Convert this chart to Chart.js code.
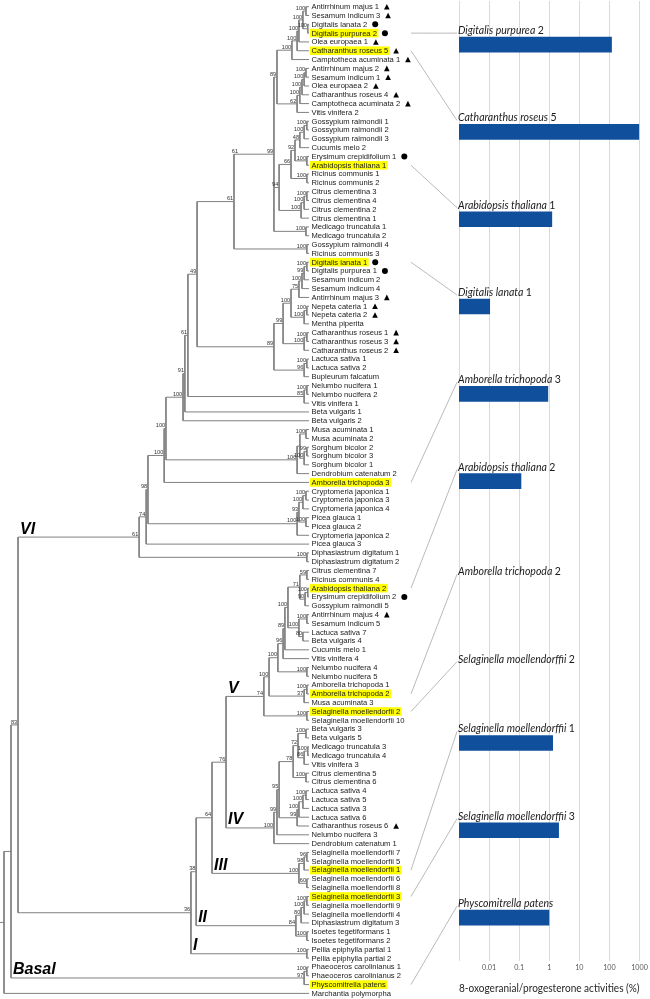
<!DOCTYPE html>
<html>
<head>
<meta charset="utf-8">
<script src="https://cdn.jsdelivr.net/npm/chart.js@4.4.1/dist/chart.umd.min.js"></script>
<style>
html, body { margin: 0; padding: 0; background: #fff; }
#wrap { position: relative; width: 650px; height: 999px; }
#wrap canvas { position: absolute; left: 0; top: 0; }
</style>
</head>
<body>
<div id="wrap">
<canvas id="tree" width="650" height="999"></canvas>
<canvas id="bars" width="650" height="999"></canvas>
</div>
<script>
// tree pieces: name)bootstrap:depth[clade] ; leaves run to the tips (depth 100)
function grp(a, b, tag) { return '(' + a + ',' + b + ')' + tag; }

var lamiales1 = '((((((Antirrhinum majus 1,Sesamum indicum 3)100:99.0,(Digitalis lanata 2,Digitalis purpurea 2)100:99.6)100:98.0,Olea europaea 1)100:96.7,Catharanthus roseus 5)100:96.1,Camptotheca acuminata 1)100:94.4';
var lamiales2 = '(((((Antirrhinum majus 2,Sesamum indicum 1)100:99.0,Olea europaea 2)100:98.4,Catharanthus roseus 4)100:97.7,Camptotheca acuminata 2)100:97.0,Vitis vinifera 2)62:96.1';
var rosids1 = '((((((Gossypium raimondii 1,Gossypium raimondii 2)100:99.3,Gossypium raimondii 3)100:98.4,Cucumis melo 2)48:97.0,(Erysimum crepidifolium 1,Arabidopsis thaliana 1)100:99.3)92:95.4,(Ricinus communis 1,Ricinus communis 2)100:99.3)66:94.1,(((Citrus clementina 3,Citrus clementina 4)100:99.3,Citrus clementina 2)100:98.4,Citrus clementina 1)100:97.4)94:90.2,(Medicago truncatula 1,Medicago truncatula 2)100:99.0)99:88.5';
var rosids2 = '(Gossypium raimondii 4,Ricinus communis 3)100:99.3';
var lamiales3 = '(((((((Digitalis lanata 1,Digitalis purpurea 1)100:99.3,Sesamum indicum 2)99:98.4,Sesamum indicum 4)100:97.7,Antirrhinum majus 3)75:96.7,((Nepeta cateria 1,Nepeta cateria 2)100:99.3,Mentha piperita)100:98.4)100:94.1,((Catharanthus roseus 1,Catharanthus roseus 3)100:99.3,Catharanthus roseus 2)100:98.4)99:91.5,((Lactuca sativa 1,Lactuca sativa 2)100:99.3,Bupleurum falcatum)96:98.4)89:88.5';
var nelumbo1 = '((Nelumbo nucifera 1,Nelumbo nucifera 2)100:99.3,Vitis vinifera 1)85:98.4';
var monocots1 = '(((Musa acuminata 1,Musa acuminata 2)100:99.0,((Sorghum bicolor 2,Sorghum bicolor 3)99:99.3,Sorghum bicolor 1)100:98.4):97.0,Dendrobium catenatum 2)100:96.1';
var gymnosperms = '((((Cryptomeria japonica 1,Cryptomeria japonica 3)100:99.0,Cryptomeria japonica 4)100:98.0,(Picea glauca 1,Picea glauca 2)100:99.0)93:96.7,Cryptomeria japonica 2)100:96.1';
var diphasiastrum1 = '(Diphasiastrum digitatum 1,Diphasiastrum digitatum 2)100:99.3';

var n89 = grp(lamiales1, lamiales2, '89:89.5');
var n61a = grp(n89, rosids1, '61:77.0');
var n61b = grp(n61a, rosids2, '61:75.4');
var n49 = grp(n61b, lamiales3, '49:63.3');
var n61c = grp(n49, nelumbo1, '61:60.3');
var n91 = grp(n61c, 'Beta vulgaris 1', '91:59.3');
var n100a = grp(n91, 'Beta vulgaris 2', '100:58.7');
var n100b = grp(n100a, monocots1, '100:53.1');
var n100c = grp(n100b, 'Amborella trichopoda 3', '100:52.5');
var n98 = grp(n100c, gymnosperms, '98:47.2');
var n74 = grp(n98, 'Picea glauca 3', '74:46.6');
var cladeVI = grp(n74, diphasiastrum1, '61:44.3[VI]');

var n71 = '((Citrus clementina 7,Ricinus communis 4)59:99.3,((Arabidopsis thaliana 2,Erysimum crepidifolium 2)100:99.6,Gossypium raimondii 5)90:98.7)71:97.0';
var n100x = '((Antirrhinum majus 4,Sesamum indicum 5)100:99.3,(Lactuca sativa 7,Beta vulgaris 4)80:98.0)100:96.7';
var n100f = grp(n71, n100x, '100:93.1');
var n89b = grp(n100f, 'Cucumis melo 1', '89:92.1');
var n96 = grp(n89b, 'Vitis vinifera 4', '96:91.5');
var n100e = grp(n96, '(Nelumbo nucifera 4,Nelumbo nucifera 5)100:99.3', '100:89.8');
var n100d = grp(n100e, '((Amborella trichopoda 1,Amborella trichopoda 2)100:99.3,Musa acuminata 3)37:98.4', '100:86.9');
var cladeV = grp(n100d, '(Selaginella moellendorfii 2,Selaginella moellendorfii 10)100:99.3', '74:85.2[V]');

var n72 = '((Beta vulgaris 3,Beta vulgaris 5)100:99.0,((Medicago truncatula 3,Medicago truncatula 4)100:99.6,Vitis vinifera 3)86:98.4)72:96.4';
var n78 = grp(n72, '(Citrus clementina 5,Citrus clementina 6)100:99.0', '78:94.8');
var lettuce = '((((Lactuca sativa 4,Lactuca sativa 5)100:99.0,Lactuca sativa 3)100:98.0,Lactuca sativa 6)100:96.7,Catharanthus roseus 6)99:96.1';
var n95 = grp(n78, lettuce, '95:90.2');
var n99c = grp(n95, 'Nelumbo nucifera 3', '99:89.5');
var cladeIV = grp(n99c, 'Dendrobium catenatum 1', '100:88.5[IV]');

var cladeIII = '(((Selaginella moellendorfii 7,Selaginella moellendorfii 5)96:99.3,Selaginella moellendorfii 1)98:98.4,(Selaginella moellendorfii 6,Selaginella moellendorfii 8)60:99.3)100:96.7[III]';
var cladeII = '((((Selaginella moellendorfii 3,Selaginella moellendorfii 9)100:99.3,Selaginella moellendorfii 4)100:98.4,Diphasiastrum digitatum 3)80:97.4,(Isoetes tegetiformans 1,Isoetes tegetiformans 2)100:99.3)84:95.7[II]';
var cladeI = '(Pellia epiphylla partial 1,Pellia epiphylla partial 2)100:99.3[I]';
var cladeBasal = '((Phaeoceros carolinianus 1,Phaeoceros carolinianus 2)100:99.3,Physcomitrella patens)97:98.4[Basal]';

var n76 = grp(cladeV, cladeIV, '76:72.8');
var n64 = grp(n76, cladeIII, '64:68.2');
var n38 = grp(n64, cladeII, '38:63.0');
var n36 = grp(n38, cladeI, '36:61.3');
var n83 = grp(cladeVI, n36, '83:4.6');
var landPlants = grp(n83, cladeBasal, ':2.3');
var treeString = grp(landPlants, 'Marchantia polymorpha', ':0');

var triangleLeaves = ['Antirrhinum majus 1', 'Sesamum indicum 3', 'Olea europaea 1', 'Catharanthus roseus 5', 'Camptotheca acuminata 1',
  'Antirrhinum majus 2', 'Sesamum indicum 1', 'Olea europaea 2', 'Catharanthus roseus 4', 'Camptotheca acuminata 2',
  'Antirrhinum majus 3', 'Nepeta cateria 1', 'Nepeta cateria 2', 'Catharanthus roseus 1', 'Catharanthus roseus 3',
  'Catharanthus roseus 2', 'Antirrhinum majus 4', 'Catharanthus roseus 6'];
var circleLeaves = ['Digitalis lanata 2', 'Digitalis purpurea 2', 'Erysimum crepidifolium 1', 'Digitalis lanata 1',
  'Digitalis purpurea 1', 'Erysimum crepidifolium 2'];

// bar chart
var barLeaves = ['Digitalis purpurea 2', 'Catharanthus roseus 5', 'Arabidopsis thaliana 1', 'Digitalis lanata 1',
  'Amborella trichopoda 3', 'Arabidopsis thaliana 2', 'Amborella trichopoda 2', 'Selaginella moellendorfii 2',
  'Selaginella moellendorfii 1', 'Selaginella moellendorfii 3', 'Physcomitrella patens'];
var barSpecies = ['Digitalis purpurea', 'Catharanthus roseus', 'Arabidopsis thaliana', 'Digitalis lanata',
  'Amborella trichopoda', 'Arabidopsis thaliana', 'Amborella trichopoda', 'Selaginella moellendorffii',
  'Selaginella moellendorffii', 'Selaginella moellendorffii', 'Physcomitrella patens'];
var barNumbers = ['2', '5', '1', '1', '3', '2', '2', '2', '1', '3', ''];
var barValues = [118, 960, 1.22, 0.0105, 0.9, 0.115, null, null, 1.3, 2.05, 0.98];
var tickValues = [0.001, 0.01, 0.1, 1, 10, 100, 1000];
var tickLabels = ['', '0.01', '0.1', '1', '10', '100', '1000'];
var axisTitle = '8-oxogeranial/progesterone activities (%)';

var tipDepth = 100;
var rootStem = 1.3;

function parseTree(s) {
  var i = 0;
  function node() {
    var n = { children: [] };
    if (s[i] === '(') {
      i++;
      n.children.push(node());
      while (s[i] === ',') { i++; n.children.push(node()); }
      i++;
    }
    var m = /^[^,():\[]*/.exec(s.slice(i));
    n.name = m[0].trim(); i += m[0].length;
    if (s[i] === ':') {
      i++;
      m = /^[-\d.]+/.exec(s.slice(i));
      n.depth = +m[0]; i += m[0].length;
    }
    if (s[i] === '[') {
      var j = s.indexOf(']', i);
      n.clade = s.slice(i + 1, j); i = j + 1;
    }
    return n;
  }
  return node();
}

var root = parseTree(treeString);
var leaves = [], internals = [];
function layout(n, parent) {
  n.parent = parent;
  if (!n.children.length) {
    n.depth = tipDepth;
    n.y = leaves.length + 1;
    leaves.push(n);
    return;
  }
  n.children.forEach(function(c) { layout(c, n); });
  n.y = (n.children[0].y + n.children[n.children.length - 1].y) / 2;
  internals.push(n);
}
layout(root, null);

var edgePoints = [];
function seg(x1, y1, x2, y2) {
  edgePoints.push({x: x1, y: y1}, {x: x2, y: y2}, {x: NaN, y: NaN});
}
seg(root.depth - rootStem, root.y, root.depth, root.y);
internals.forEach(function(n) {
  seg(n.depth, n.children[0].y, n.depth, n.children[n.children.length - 1].y);
  n.children.forEach(function(c) { seg(n.depth, c.y, c.depth, c.y); });
});

var leafFont = '7.6px "Liberation Sans", Arial, sans-serif';

var treeText = {
  id: 'treeText',
  beforeDatasetsDraw: function(chart) {
    var ctx = chart.ctx, xs = chart.scales.x, ys = chart.scales.y;
    ctx.save();
    ctx.font = leafFont;
    leaves.forEach(function(lf) {
      if (barLeaves.indexOf(lf.name) < 0) return;
      var px = xs.getPixelForValue(lf.depth) + 2.5, py = ys.getPixelForValue(lf.y);
      var w = ctx.measureText(lf.name).width;
      ctx.fillStyle = '#ffff00';
      ctx.fillRect(px - 1.5, py - 4.3, w + 3, 8.6);
    });
    ctx.restore();
  },
  afterDatasetsDraw: function(chart) {
    var ctx = chart.ctx, xs = chart.scales.x, ys = chart.scales.y;
    ctx.save();
    ctx.font = leafFont;
    ctx.textBaseline = 'middle';
    ctx.textAlign = 'left';
    leaves.forEach(function(lf) {
      var px = xs.getPixelForValue(lf.depth) + 2.5, py = ys.getPixelForValue(lf.y);
      ctx.fillStyle = '#1a1a1a';
      ctx.fillText(lf.name, px, py + 0.3);
      var sx = px + ctx.measureText(lf.name).width + 5;
      ctx.fillStyle = '#000';
      if (triangleLeaves.indexOf(lf.name) >= 0) {
        ctx.beginPath();
        ctx.moveTo(sx, py + 2.8);
        ctx.lineTo(sx + 5.6, py + 2.8);
        ctx.lineTo(sx + 2.8, py - 2.8);
        ctx.closePath();
        ctx.fill();
      } else if (circleLeaves.indexOf(lf.name) >= 0) {
        ctx.beginPath();
        ctx.arc(sx + 3, py, 3, 0, Math.PI * 2);
        ctx.fill();
      }
    });
    // bootstrap values
    ctx.font = '5.6px "Liberation Sans", Arial, sans-serif';
    ctx.textAlign = 'right';
    ctx.textBaseline = 'alphabetic';
    ctx.fillStyle = '#333';
    internals.forEach(function(n) {
      if (!n.parent || !n.name) return;
      ctx.fillText(n.name, xs.getPixelForValue(n.depth) - 0.8, ys.getPixelForValue(n.y) - 1.3);
    });
    // clade names
    ctx.font = 'italic bold 16px "Liberation Sans", Arial, sans-serif';
    ctx.textAlign = 'left';
    ctx.fillStyle = '#000';
    internals.forEach(function(n) {
      if (!n.clade) return;
      ctx.fillText(n.clade, xs.getPixelForValue(n.parent.depth) + 2, ys.getPixelForValue(n.y) - 3.5);
    });
    ctx.restore();
  }
};

var treeChart = new Chart(document.getElementById('tree'), {
  type: 'scatter',
  data: {
    datasets: [{
      data: edgePoints,
      showLine: true,
      spanGaps: false,
      borderColor: '#808080',
      borderWidth: 1,
      pointRadius: 0,
      tension: 0,
      clip: false
    }]
  },
  options: {
    responsive: false,
    animation: false,
    events: [],
    layout: { padding: { left: 4, right: 341, top: 6.7, bottom: 5.6 } },
    plugins: { legend: { display: false }, tooltip: { enabled: false } },
    scales: {
      x: { type: 'linear', min: 0, max: tipDepth, display: false },
      y: { type: 'linear', min: 1, max: leaves.length, reverse: true, display: false }
    }
  },
  plugins: [treeText]
});

var barText = {
  id: 'barText',
  afterDatasetsDraw: function(chart) {
    var ctx = chart.ctx, ys = chart.scales.y, left = chart.chartArea.left;
    var tx = treeChart.scales.x, ty = treeChart.scales.y;
    ctx.save();
    // labels sit above the bar, or in the middle of the row when there is no bar
    function labelY(i) { return ys.getPixelForValue(i) + (barValues[i] === null ? 7 : -10.5); }
    ctx.strokeStyle = '#a8a8a8';
    ctx.lineWidth = 0.8;
    barLeaves.forEach(function(name, i) {
      var lf = leaves.filter(function(l) { return l.name === name; })[0];
      if (!lf) return;
      ctx.beginPath();
      ctx.moveTo(tx.getPixelForValue(tipDepth) + 102, ty.getPixelForValue(lf.y));
      ctx.lineTo(left - 2, labelY(i) - 1);
      ctx.stroke();
    });
    ctx.fillStyle = '#1a1a1a';
    ctx.textBaseline = 'alphabetic';
    barSpecies.forEach(function(sp, i) {
      var y = labelY(i);
      ctx.font = 'italic 10.5px Lato, "Liberation Sans", sans-serif';
      ctx.fillText(sp, left - 1, y);
      var w = ctx.measureText(sp + ' ').width;
      ctx.font = '10.5px Lato, "Liberation Sans", sans-serif';
      ctx.fillText(barNumbers[i], left - 1 + w, y);
    });
    ctx.restore();
  }
};

var barChart = new Chart(document.getElementById('bars'), {
  type: 'bar',
  data: {
    labels: barLeaves,
    datasets: [{
      data: barValues,
      backgroundColor: '#0f4f9c',
      borderWidth: 0,
      barThickness: 15
    }]
  },
  options: {
    indexAxis: 'y',
    responsive: false,
    animation: false,
    events: [],
    layout: { padding: { left: 459, right: 10, top: 1, bottom: 4.2 } },
    plugins: { legend: { display: false }, tooltip: { enabled: false } },
    scales: {
      x: {
        type: 'logarithmic',
        min: 0.001,
        max: 1000,
        afterBuildTicks: function(scale) {
          scale.ticks = tickValues.map(function(v) { return { value: v }; });
        },
        ticks: {
          autoSkip: false,
          maxRotation: 0,
          padding: 2.2,
          color: '#595959',
          font: { family: 'Lato, "Liberation Sans", sans-serif', size: 7.2 },
          callback: function(v, i) { return tickLabels[i]; }
        },
        grid: { color: '#d9d9d9', drawTicks: false },
        border: { display: false },
        title: {
          display: true,
          text: axisTitle,
          color: '#262626',
          padding: { top: 7, bottom: 0 },
          font: { family: 'Lato, "Liberation Sans", sans-serif', size: 11.3 }
        }
      },
      y: { type: 'category', display: false, grid: { display: false } }
    }
  },
  plugins: [barText]
});
</script>
</body>
</html>
